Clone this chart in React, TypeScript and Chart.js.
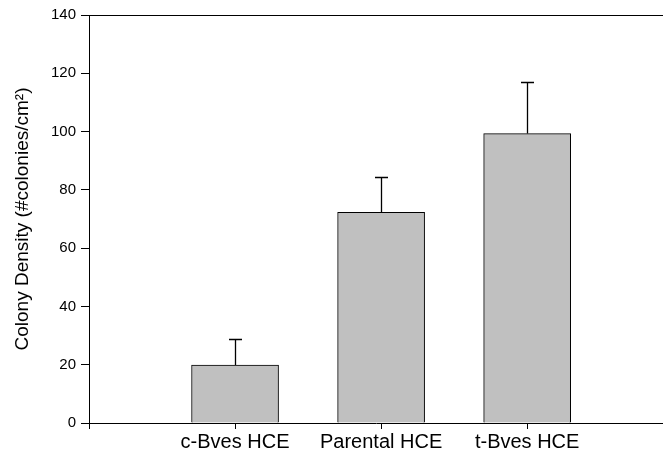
import React, { useEffect, useRef } from "react";
import { Chart, registerables } from "chart.js";

Chart.register(...registerables);

const categories = ["c-Bves HCE", "Parental HCE", "t-Bves HCE"];
const means = [19.9, 72.3, 99.3];
const errors = [8.9, 12.2, 17.8];
const yTicks = [0, 20, 40, 60, 80, 100, 120, 140];

const FONT = "'Liberation Sans', Arial, sans-serif";

const errorBarPlugin = {
  id: "errorBars",
  afterDatasetsDraw(chart: any) {
    const xs = chart.scales.x;
    const ys = chart.scales.y;
    const ctx = chart.ctx;
    ctx.save();
    ctx.strokeStyle = "#000";
    ctx.lineWidth = 1.3;
    means.forEach((m, i) => {
      const x = Math.round(xs.getPixelForValue(i + 1)) + 0.5;
      const y0 = ys.getPixelForValue(m);
      const y1 = Math.round(ys.getPixelForValue(m + errors[i])) + 0.5;
      ctx.beginPath();
      ctx.moveTo(x, y0);
      ctx.lineTo(x, y1);
      ctx.moveTo(x - 6.5, y1);
      ctx.lineTo(x + 6.5, y1);
      ctx.stroke();
    });
    // top frame line
    const ca = chart.chartArea;
    ctx.lineWidth = 1;
    ctx.beginPath();
    ctx.moveTo(ca.left, Math.round(ca.top) + 0.5);
    ctx.lineTo(ca.right, Math.round(ca.top) + 0.5);
    ctx.stroke();
    ctx.restore();
  },
};

export default function App() {
  const ref = useRef<HTMLCanvasElement>(null);
  useEffect(() => {
    if (!ref.current) return;
    const chart = new Chart(ref.current, {
      type: "bar",
      data: {
        datasets: [
          {
            data: means.map((m, i) => ({ x: i + 1, y: m })),
            backgroundColor: "#c0c0c0",
            borderColor: "#000",
            borderWidth: 1,
            barThickness: 87,
          },
        ],
      },
      options: {
        responsive: false,
        animation: false,
        layout: { padding: { top: 15, right: 0, bottom: 0, left: 0 } },
        plugins: { legend: { display: false }, tooltip: { enabled: false } },
        scales: {
          x: {
            type: "linear",
            offset: false,
            min: 0,
            max: 3.93,
            afterBuildTicks: (axis: any) => {
              axis.ticks = [0, 1, 2, 3].map((v) => ({ value: v }));
            },
            afterFit: (axis: any) => {
              axis.height = 34;
            },
            grid: {
              offset: false,
              drawOnChartArea: false,
              drawTicks: true,
              tickLength: 6,
              color: "#000",
            },
            border: { display: true, color: "#000", width: 1 },
            ticks: {
              autoSkip: false,
              maxRotation: 0,
              padding: 1,
              color: "#000",
              font: { family: FONT, size: 20 },
              callback: (v: any) => (v >= 1 && v <= 3 ? categories[v - 1] : ""),
            },
          },
          y: {
            min: 0,
            max: 140,
            afterBuildTicks: (axis: any) => {
              axis.ticks = yTicks.map((v) => ({ value: v }));
            },
            afterFit: (axis: any) => {
              axis.width = 89;
            },
            grid: {
              drawOnChartArea: false,
              drawTicks: true,
              tickLength: 8,
              color: "#000",
            },
            border: { display: true, color: "#000", width: 1 },
            ticks: {
              padding: 5,
              color: "#000",
              font: { family: FONT, size: 15 },
            },
            title: {
              display: true,
              text: "Colony Density (#colonies/cm²)",
              color: "#000",
              font: { family: FONT, size: 19 },
              padding: { top: 11, bottom: 0 },
            },
          },
        },
      },
      plugins: [errorBarPlugin],
    });
    return () => chart.destroy();
  }, []);
  return (
    <div style={{ position: "fixed", left: 0, top: 0, width: 663, height: 457, background: "#fff" }}>
      <canvas ref={ref} width={663} height={457} style={{ display: "block" }} />
    </div>
  );
}
